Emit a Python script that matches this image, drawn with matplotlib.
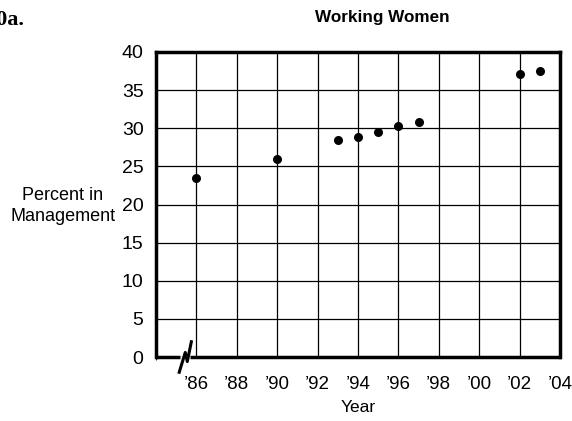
import numpy as np
import matplotlib
matplotlib.use("Agg")
import matplotlib.pyplot as plt
from matplotlib.lines import Line2D

plt.rcParams['font.family'] = ['Liberation Sans', 'DejaVu Sans']

years = [1986, 1990, 1993, 1994, 1995, 1996, 1997, 2002, 2003]
percent = [23.5, 26.0, 28.5, 28.9, 29.5, 30.3, 30.8, 37.1, 37.5]

xticks = [1986, 1988, 1990, 1992, 1994, 1996, 1998, 2000, 2002, 2004]
xticklabels = ["\u201986", "\u201988", "\u201990", "\u201992", "\u201994",
               "\u201996", "\u201998", "\u201900", "\u201902", "\u201904"]
yticks = [0, 5, 10, 15, 20, 25, 30, 35, 40]


def main():
    fig = plt.figure(figsize=(5.72, 4.21), dpi=100)
    ax = fig.add_axes([0.2727, 0.152, 0.7063, 0.7245])

    ax.scatter(years, percent, s=30, color="black", zorder=3)

    ax.set_xlim(1984, 2004)
    ax.set_ylim(0, 40)
    ax.set_xticks(xticks)
    ax.set_xticklabels(xticklabels, fontsize=13.5)
    ax.set_yticks(yticks)
    ax.set_yticklabels([str(v) for v in yticks], fontsize=14)
    ax.set_xticks(np.arange(1984, 2005, 2), minor=True)
    ax.tick_params(axis='y', length=0, pad=9)
    ax.tick_params(axis='x', length=0, pad=14)
    ax.grid(True, which='both', color='black', linewidth=0.9)
    ax.set_axisbelow(True)

    for s in ['left', 'top', 'right']:
        ax.spines[s].set_linewidth(2.5)
    ax.spines['bottom'].set_visible(False)

    # bottom axis with break marker
    trans = ax.transData
    ax.add_line(Line2D([1984, 1985.2], [0, 0], color='black', lw=2.5,
                       transform=trans, clip_on=False, solid_capstyle='butt'))
    ax.add_line(Line2D([1985.7, 2004.07], [0, 0], color='black', lw=2.5,
                       transform=trans, clip_on=False, solid_capstyle='butt'))
    ax.add_line(Line2D([1985.15, 1985.45, 1985.55, 1985.75],
                       [-2.0, 0.6, -0.6, 2.0], color='black', lw=2.2,
                       transform=trans, clip_on=False))

    fig.text(0.668, 0.958, "Working Women", fontsize=12.3, fontweight='bold',
             ha='center', va='center')
    ax.set_xlabel("Year", fontsize=12.5, labelpad=5)
    fig.text(0.11, 0.511, "Percent in\nManagement", fontsize=13,
             ha='center', va='center', linespacing=1.35)
    fig.text(-0.026, 0.952, "10a.", fontsize=16, fontweight='bold',
             family='Liberation Serif', ha='left', va='center')

    fig.savefig("out.png", dpi=100)


if __name__ == "__main__":
    main()
